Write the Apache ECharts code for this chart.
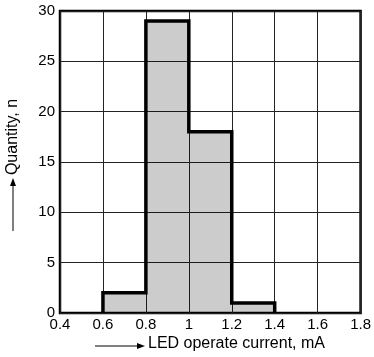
<!DOCTYPE html>
<html>
<head>
<meta charset="utf-8">
<script src="https://cdn.jsdelivr.net/npm/echarts@6/dist/echarts.min.js"></script>
<style>
  html, body { margin: 0; padding: 0; background: #fff; }
  #chart { width: 374px; height: 357px; }
</style>
</head>
<body>
<div id="chart"></div>
<script>
// histogram bins (mA) and counts
const binStarts = [0.6, 0.8, 1.0, 1.2];
const binWidth = 0.2;
const counts = [2, 29, 18, 1];
const xTicks = [0.4, 0.6, 0.8, 1, 1.2, 1.4, 1.6, 1.8];
const yTicks = [0, 5, 10, 15, 20, 25, 30];

const font = 'Liberation Sans, Arial, Helvetica, sans-serif';

// outline of the histogram silhouette
const outline = [[binStarts[0], 0]];
binStarts.forEach((s, i) => {
  outline.push([s, counts[i]]);
  outline.push([s + binWidth, counts[i]]);
});
outline.push([binStarts[binStarts.length - 1] + binWidth, 0]);

const chart = echarts.init(document.getElementById('chart'));

const option = {
  animation: false,
  grid: {
    left: 60, right: 11, top: 11, bottom: 44,
    show: true,
    borderColor: '#000',
    borderWidth: 2.5,
    backgroundColor: 'transparent'
  },
  xAxis: {
    type: 'value',
    min: 0.4, max: 1.8, interval: 0.2,
    axisLine: { show: false },
    axisTick: { show: false },
    splitLine: { show: true, lineStyle: { color: '#222', width: 1 } },
    axisLabel: {
      color: '#000', fontFamily: font, fontSize: 15, margin: 4,
      formatter: v => {
        const r = Math.round(v * 10) / 10;
        return xTicks.indexOf(r) >= 0 ? String(r) : '';
      }
    }
  },
  yAxis: {
    type: 'value',
    min: 0, max: 30, interval: 5,
    axisLine: { show: false },
    axisTick: { show: false },
    splitLine: { show: true, lineStyle: { color: '#222', width: 1 } },
    axisLabel: { color: '#000', fontFamily: font, fontSize: 15, margin: 5 }
  },
  series: [
    {
      // translucent grey fill so grid lines show through it
      type: 'custom',
      silent: true,
      z: 3,
      data: binStarts.map((s, i) => [s, s + binWidth, counts[i]]),
      renderItem: (params, api) => {
        const p0 = api.coord([api.value(0), api.value(2)]);
        const p1 = api.coord([api.value(1), 0]);
        return {
          type: 'rect',
          shape: { x: p0[0], y: p0[1], width: p1[0] - p0[0], height: p1[1] - p0[1] },
          style: { fill: 'rgba(0,0,0,0.2)' }
        };
      }
    },
    {
      type: 'line',
      data: outline,
      symbol: 'none',
      lineStyle: { color: '#000', width: 3.5, join: 'miter' },
      z: 5
    }
  ],
  graphic: [
    {
      type: 'text',
      left: 148, top: 336,
      style: { text: 'LED operate current, mA', font: '16px ' + font, fill: '#000' }
    },
    {
      type: 'line',
      shape: { x1: 95, y1: 346, x2: 138, y2: 346 },
      style: { stroke: '#000', lineWidth: 1 }
    },
    {
      type: 'polygon',
      shape: { points: [[137, 343], [145, 346], [137, 349]] },
      style: { fill: '#000' }
    },
    {
      type: 'text',
      x: 13, y: 137,
      rotation: Math.PI / 2,
      style: {
        text: 'Quantity, n', font: '16px ' + font, fill: '#000',
        align: 'center', verticalAlign: 'middle'
      }
    },
    {
      type: 'line',
      shape: { x1: 13, y1: 231, x2: 13, y2: 185 },
      style: { stroke: '#000', lineWidth: 1 }
    },
    {
      type: 'polygon',
      shape: { points: [[10, 186], [13, 178], [16, 186]] },
      style: { fill: '#000' }
    }
  ]
};

chart.setOption(option);
</script>
</body>
</html>
